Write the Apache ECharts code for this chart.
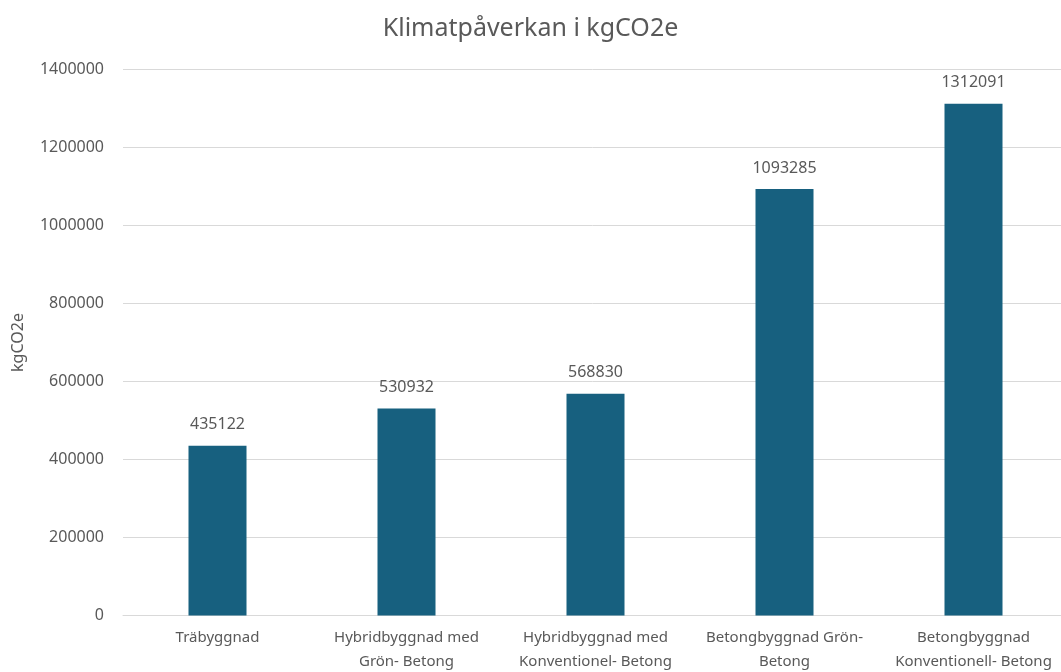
<!DOCTYPE html>
<html>
<head>
<meta charset="utf-8">
<script src="https://cdn.jsdelivr.net/npm/echarts@6/dist/echarts.min.js"></script>
<style>
  html, body { margin: 0; padding: 0; background: #ffffff; }
  #chart { width: 1061px; height: 672px; }
</style>
</head>
<body>
<div id="chart"></div>
<script>
// Building types (category axis labels, wrapped onto two lines)
const categories = [
  'Träbyggnad',
  'Hybridbyggnad med\nGrön- Betong',
  'Hybridbyggnad med\nKonventionel- Betong',
  'Betongbyggnad Grön-\nBetong',
  'Betongbyggnad\nKonventionell- Betong'
];

// Climate impact per building type, kgCO2e
const climateImpact = [435122, 530932, 568830, 1093285, 1312091];

// Value axis range
const yMin = 0;
const yMax = 1400000;
const yStep = 200000;

const textColor = '#595959';
const fontFamily = '"Noto Sans", "Open Sans", sans-serif';

const chart = echarts.init(document.getElementById('chart'), null, { renderer: 'canvas' });

chart.setOption({
  backgroundColor: '#ffffff',
  animation: false,
  title: {
    text: 'Klimatpåverkan i kgCO2e',
    left: 'center',
    top: 11,
    textStyle: { color: textColor, fontFamily, fontSize: 25, fontWeight: 'normal' }
  },
  grid: {
    left: 123, top: 69.5, width: 945, height: 546,
    containLabel: false,
    outerBoundsMode: 'none'
  },
  xAxis: {
    type: 'category',
    data: categories,
    axisTick: { show: false },
    axisLine: { lineStyle: { color: '#d9d9d9', width: 1 } },
    axisLabel: {
      color: textColor,
      fontFamily,
      fontSize: 15,
      lineHeight: 24,
      margin: 10,
      interval: 0
    }
  },
  yAxis: {
    type: 'value',
    min: yMin,
    max: yMax,
    interval: yStep,
    name: 'kgCO2e',
    nameLocation: 'middle',
    nameGap: 97,
    nameTextStyle: { color: textColor, fontFamily, fontSize: 16 },
    axisLine: { show: false },
    axisTick: { show: false },
    splitLine: { lineStyle: { color: '#d9d9d9', width: 1 } },
    axisLabel: {
      color: textColor,
      fontFamily,
      fontSize: 16,
      margin: 19,
      formatter: (v) => String(v)
    }
  },
  series: [{
    type: 'bar',
    data: climateImpact,
    barWidth: 58,
    itemStyle: { color: '#17607f' },
    label: {
      show: true,
      position: 'top',
      distance: 13,
      color: textColor,
      fontFamily,
      fontSize: 16
    }
  }]
});
</script>
</body>
</html>
